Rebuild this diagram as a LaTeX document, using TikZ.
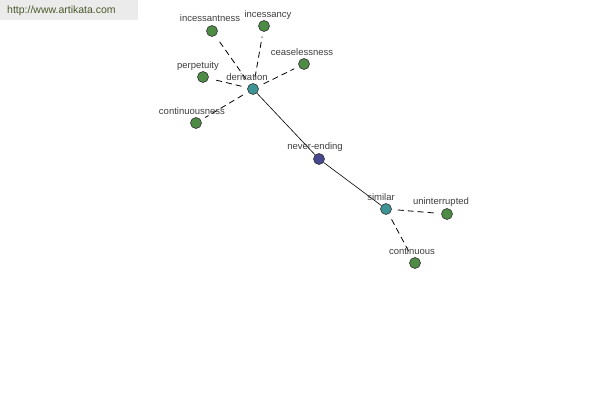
\documentclass[tikz,border=0pt]{standalone}
\usepackage{fontspec}
\setmainfont{Liberation Sans}
\definecolor{leaf}{HTML}{4E8C46}
\definecolor{hub}{HTML}{3E9494}
\definecolor{root}{HTML}{48488E}
\definecolor{logobg}{HTML}{EBEBEB}
\definecolor{logotx}{HTML}{4A5A2A}
\definecolor{lbl}{HTML}{404040}
\tikzset{
  dot/.style={circle,draw=black!80,line width=0.6pt,minimum size=11pt,inner sep=0pt},
  leafdot/.style={dot,fill=leaf},
  hubdot/.style={dot,fill=hub},
  rootdot/.style={dot,fill=root},
  lab/.style={text=lbl,font=\fontsize{9.5}{11}\selectfont,inner sep=0pt},
  weak/.style={dash pattern=on 6pt off 4pt,line width=0.8pt,shorten <=6pt,shorten >=5pt},
  strong/.style={line width=0.6pt}
}
\begin{document}
\begin{tikzpicture}[x=1pt,y=-1pt]
\useasboundingbox[fill=white] (0,0) rectangle (600,400);
\fill[logobg] (0,0) rectangle (138,20);
\node[text=logotx,font=\fontsize{10.5}{12}\selectfont,anchor=west,inner sep=0pt] (logo) at (7,11) {http://www.artikata.com};
% nodes
\node[hubdot] (der) at (253,89) {};
\node[leafdot] (inct) at (212,31) {};
\node[leafdot] (incy) at (264,26) {};
\node[leafdot] (ceas) at (304,64) {};
\node[leafdot] (perp) at (203,77) {};
\node[leafdot] (cont) at (196,123) {};
\node[rootdot] (never) at (319,159) {};
\node[hubdot] (sim) at (386,209) {};
\node[leafdot] (unin) at (447,214) {};
\node[leafdot] (cons) at (415,263) {};
% edges
\draw[weak] (der) -- (inct);
\draw[weak] (der) -- (incy);
\draw[weak] (der) -- (ceas);
\draw[weak] (der) -- (perp);
\draw[weak] (der) -- (cont);
\draw[strong] (der) -- (never);
\draw[strong] (never) -- (sim);
\draw[weak] (sim) -- (unin);
\draw[weak] (sim) -- (cons);
% labels
\node[lab] (linct) at (210,18) {incessantness};
\node[lab] (lincy) at (268,15) {incessancy};
\node[lab] (lceas) at (302,52) {ceaselessness};
\node[lab] (lperp) at (198,66) {perpetuity};
\node[lab] (lder) at (247,77) {derivation};
\node[lab] (lcont) at (192,111) {continuousness};
\node[lab] (lnever) at (315,147) {never-ending};
\node[lab] (lsim) at (381,197) {similar};
\node[lab] (lunin) at (441,202) {uninterrupted};
\node[lab] (lcons) at (412,251) {continuous};
\end{tikzpicture}
\end{document}
